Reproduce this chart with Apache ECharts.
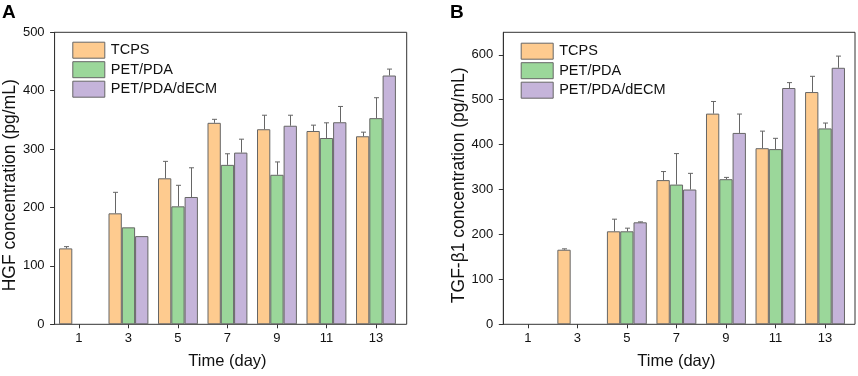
<!DOCTYPE html>
<html>
<head>
<meta charset="utf-8">
<script src="https://cdn.jsdelivr.net/npm/echarts@6/dist/echarts.min.js"></script>
<style>
  html, body { margin: 0; padding: 0; background: #fff; }
  #chart { width: 858px; height: 376px; }
</style>
</head>
<body>
<div id="chart"></div>
<script>
// ---------- data ----------
var days = ['1', '3', '5', '7', '9', '11', '13'];
var groups = ['TCPS', 'PET/PDA', 'PET/PDA/dECM'];
var colorList = ['#FECB8F', '#9BD79A', '#C5B4DA'];

// HGF (panel A)
var hgfTCPS = [130, 190, 250, 345, 334, 331, 322];
var hgfPDA = ['-', 166, 202, 273, 256, 319, 353];
var hgfECM = ['-', 151, 218, 294, 340, 346, 426];
var hgfTCPSErr = [3, 36, 29, 6, 24, 10, 7];
var hgfPDAErr = ['-', 0, 36, 19, 22, 26, 35];
var hgfECMErr = ['-', 0, 50, 23, 18, 27, 11];

// TGF-β1 (panel B)
var tgfTCPS = ['-', 166, 207, 321, 469, 392, 517];
var tgfPDA = ['-', '-', 207, 311, 323, 390, 436];
var tgfECM = ['-', '-', 227, 300, 426, 526, 571];
var tgfTCPSErr = ['-', 2, 27, 19, 27, 38, 35];
var tgfPDAErr = ['-', '-', 7, 69, 4, 24, 12];
var tgfECMErr = ['-', '-', 1, 36, 42, 12, 26];

var hgfTicks = [0, 100, 200, 300, 400, 500];
var tgfTicks = [0, 100, 200, 300, 400, 500, 600];

var fontName = "'Liberation Sans', Arial, sans-serif";
var axisColor = '#333';
var barW = 13.3;

var chart = echarts.init(document.getElementById('chart'));

function barSeries(name, data, idx, axisIdx) {
    return {
        name: name,
        type: 'bar',
        xAxisIndex: axisIdx,
        yAxisIndex: axisIdx,
        data: data,
        barWidth: barW,
        barGap: '0%',
        itemStyle: {
            color: colorList[idx],
            borderColor: '#666',
            borderWidth: 1
        },
        z: 2
    };
}

function errSeries(name, vals, errs, idx, axisIdx) {
    var d = vals.map(function(v, i) {
        return [i, v, errs[i]];
    });
    return {
        name: name,
        type: 'custom',
        xAxisIndex: axisIdx,
        yAxisIndex: axisIdx,
        data: d,
        encode: { x: 0, y: 1 },
        z: 3,
        silent: true,
        renderItem: function(params, api) {
            var v = api.value(1);
            var e = api.value(2);
            if (isNaN(v) || isNaN(e) || e <= 0) return null;
            var off = (idx - 1) * barW;
            var p0 = api.coord([api.value(0), v]);
            var p1 = api.coord([api.value(0), v + e]);
            var x = Math.round(p0[0] + off) + 0.5;
            var st = { stroke: '#666', lineWidth: 1 };
            return {
                type: 'group',
                children: [
                    { type: 'line', shape: { x1: x, y1: p0[1], x2: x, y2: p1[1] }, style: st },
                    { type: 'line', shape: { x1: x - 2.5, y1: p1[1], x2: x + 2.5, y2: p1[1] }, style: st }
                ]
            };
        }
    };
}

function frameY(gridIdx, max, ticks, name) {
    return {
        gridIndex: gridIdx,
        type: 'value',
        min: 0,
        max: max,
        interval: 100,
        name: name,
        nameLocation: 'middle',
        nameGap: 30,
        nameTextStyle: { fontFamily: fontName, fontSize: 17.5, color: '#111', padding: [0, 14, 0, 0] },
        axisLine: { show: true, lineStyle: { color: axisColor, width: 1 } },
        axisTick: { show: true, length: 4.5, customValues: ticks, lineStyle: { color: axisColor } },
        axisLabel: { fontFamily: fontName, fontSize: 13, color: '#111', margin: 10, customValues: ticks },
        splitLine: { show: false }
    };
}

function hiddenY(gridIdx, max) {
    return { gridIndex: gridIdx, type: 'value', min: 0, max: max, interval: 100, show: false, splitLine: { show: false } };
}

function barX(gridIdx) {
    return {
        gridIndex: gridIdx,
        type: 'category',
        data: days,
        name: 'Time (day)',
        nameLocation: 'middle',
        nameGap: 29,
        nameTextStyle: { fontFamily: fontName, fontSize: 16.5, color: '#111' },
        axisLine: { show: false },
        axisTick: { show: true, alignWithLabel: true, length: 4, lineStyle: { color: axisColor } },
        axisLabel: { fontFamily: fontName, fontSize: 13, color: '#111', margin: 8 },
        splitLine: { show: false }
    };
}

function legendAt(left, top) {
    return {
        orient: 'vertical',
        left: left,
        top: top,
        padding: 0,
        itemWidth: 32,
        itemHeight: 16,
        itemGap: 2.5,
        icon: 'rect',
        selectedMode: false,
        data: groups,
        itemStyle: { borderColor: '#666', borderWidth: 1 },
        textStyle: { fontFamily: fontName, fontSize: 14.5, color: '#111', padding: [0, 0, 0, 1] }
    };
}

var frameStyle = { show: true, borderColor: axisColor, borderWidth: 1, backgroundColor: 'transparent' };

var option = {
    backgroundColor: '#fff',
    animation: false,
    graphic: [
        { type: 'text', left: 2, top: 3, style: { text: 'A', font: 'bold 19px ' + fontName, fill: '#000' } },
        { type: 'text', left: 450, top: 3, style: { text: 'B', font: 'bold 19px ' + fontName, fill: '#000' } }
    ],
    legend: [legendAt(72.3, 41.7), legendAt(520.7, 42.7)],
    grid: [
        Object.assign({ left: 53.5, top: 32.3, width: 353.2, height: 292 }, frameStyle),
        { left: 54.2, top: 32.3, width: 346.5, height: 292 },
        Object.assign({ left: 503.3, top: 32.3, width: 351.7, height: 292 }, frameStyle),
        { left: 503, top: 32.3, width: 346.8, height: 292 }
    ],
    xAxis: [
        { gridIndex: 0, type: 'value', min: 0, max: 1, show: false },
        barX(1),
        { gridIndex: 2, type: 'value', min: 0, max: 1, show: false },
        barX(3)
    ],
    yAxis: [
        frameY(0, 500, hgfTicks, 'HGF concentration (pg/mL)'),
        hiddenY(1, 500),
        frameY(2, 650, tgfTicks, 'TGF-β1 concentration (pg/mL)'),
        hiddenY(3, 650)
    ],
    series: [
        barSeries('TCPS', hgfTCPS, 0, 1),
        barSeries('PET/PDA', hgfPDA, 1, 1),
        barSeries('PET/PDA/dECM', hgfECM, 2, 1),
        errSeries('TCPS', hgfTCPS, hgfTCPSErr, 0, 1),
        errSeries('PET/PDA', hgfPDA, hgfPDAErr, 1, 1),
        errSeries('PET/PDA/dECM', hgfECM, hgfECMErr, 2, 1),
        barSeries('TCPS', tgfTCPS, 0, 3),
        barSeries('PET/PDA', tgfPDA, 1, 3),
        barSeries('PET/PDA/dECM', tgfECM, 2, 3),
        errSeries('TCPS', tgfTCPS, tgfTCPSErr, 0, 3),
        errSeries('PET/PDA', tgfPDA, tgfPDAErr, 1, 3),
        errSeries('PET/PDA/dECM', tgfECM, tgfECMErr, 2, 3)
    ]
};

chart.setOption(option);
</script>
</body>
</html>
